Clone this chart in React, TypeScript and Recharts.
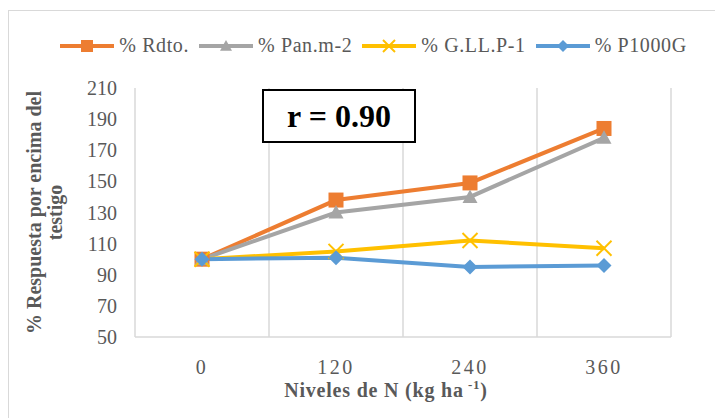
import { LineChart, Line, XAxis, YAxis, ReferenceLine } from "recharts";

// N levels (kg ha-1) and % response over control
const nLevels = [0, 120, 240, 360];
const rdto = [100, 138, 149, 184];
const panM2 = [100, 130, 140, 178];
const gllP1 = [100, 105, 112, 107];
const p1000g = [100, 101, 95, 96];
const yTicks = [50, 70, 90, 110, 130, 150, 170, 190, 210];
const bandEdges = [-60, 60, 180, 300, 420];

const FONT = '"Liberation Serif", "Times New Roman", serif';
const GRID = "#d9d9d9";
const TXT = "#595959";

const series = [
  { key: "rdto", name: "% Rdto.", color: "#ED7D31", shape: "square" },
  { key: "pan", name: "% Pan.m-2", color: "#A5A5A5", shape: "triangle" },
  { key: "gll", name: "% G.LL.P-1", color: "#FFC000", shape: "x" },
  { key: "p1000", name: "% P1000G", color: "#5B9BD5", shape: "diamond" },
];

const data = nLevels.map((n, i) => ({
  n,
  rdto: rdto[i],
  pan: panM2[i],
  gll: gllP1[i],
  p1000: p1000g[i],
}));

function Marker({ shape, color, cx, cy, s }: any) {
  const h = s / 2;
  if (shape === "square")
    return <rect x={cx - h} y={cy - h} width={s} height={s} fill={color} />;
  if (shape === "triangle")
    return (
      <polygon
        points={`${cx},${cy - h} ${cx + h},${cy + h * 0.8} ${cx - h},${cy + h * 0.8}`}
        fill={color}
      />
    );
  if (shape === "diamond")
    return (
      <polygon
        points={`${cx},${cy - h} ${cx + h},${cy} ${cx},${cy + h} ${cx - h},${cy}`}
        fill={color}
      />
    );
  return (
    <g stroke={color} strokeWidth={2}>
      <line x1={cx - h} y1={cy - h} x2={cx + h} y2={cy + h} />
      <line x1={cx - h} y1={cy + h} x2={cx + h} y2={cy - h} />
    </g>
  );
}

function ChartLegend() {
  return (
    <div
      style={{
        position: "absolute",
        top: 23,
        left: -6,
        width: 740,
        display: "flex",
        justifyContent: "center",
        gap: 9,
        fontFamily: FONT,
        fontSize: 20,
        letterSpacing: 0.6,
        color: TXT,
      }}
    >
      {series.map((s) => (
        <div key={s.key} style={{ display: "flex", alignItems: "center" }}>
          <svg width={56} height={22}>
            <line x1={1} y1={11} x2={55} y2={11} stroke={s.color} strokeWidth={4} />
            <Marker shape={s.shape} color={s.color} cx={28} cy={11} s={12} />
          </svg>
          <span style={{ marginLeft: 4 }}>{s.name}</span>
        </div>
      ))}
    </div>
  );
}

function YTitle({ viewBox }: any) {
  const cy = viewBox.y + viewBox.height / 2;
  const st = { fontFamily: FONT, fontSize: 20, fontWeight: "bold" as const, fill: TXT };
  return (
    <g>
      <text style={st} transform={`translate(25,${cy}) rotate(-90)`} textAnchor="middle" dominantBaseline="central">
        % Respuesta por encima del
      </text>
      <text style={st} transform={`translate(46,${cy}) rotate(-90)`} textAnchor="middle" dominantBaseline="central">
        testigo
      </text>
    </g>
  );
}

function XTitle() {
  return (
    <text
      x={377}
      y={386}
      textAnchor="middle"
      style={{ fontFamily: FONT, fontSize: 20, fontWeight: "bold", fill: TXT, letterSpacing: 0.8 }}
    >
      Niveles de N (kg ha
      <tspan style={{ fontSize: 13 }} dy={-8}> -1</tspan>
      <tspan dy={8}>)</tspan>
    </text>
  );
}

export default function App() {
  return (
    <div
      style={{
        position: "absolute",
        left: 8,
        top: 10,
        width: 720,
        height: 420,
        border: `1px solid ${GRID}`,
        background: "#fff",
      }}
    >
      <ChartLegend />
      <LineChart
        width={706}
        height={406}
        data={data}
        margin={{ top: 77, right: 44, bottom: 50, left: 66 }}
      >
        {bandEdges.map((e) => (
          <ReferenceLine key={e} x={e} stroke={GRID} strokeWidth={1.5} />
        ))}
        <XAxis
          dataKey="n"
          type="number"
          domain={[-60, 420]}
          ticks={nLevels}
          height={30}
          axisLine={{ stroke: GRID, strokeWidth: 1.5 }}
          tickLine={false}
          tickSize={0}
          tickMargin={23}
          tick={{ fill: TXT, fontSize: 20, fontFamily: FONT, letterSpacing: 2.5 }}
          label={<XTitle />}
        />
        <YAxis
          domain={[50, 210]}
          ticks={yTicks}
          width={60}
          axisLine={false}
          tickLine={false}
          tickSize={0}
          tickMargin={18}
          tick={{ fill: TXT, fontSize: 20, fontFamily: FONT }}
          label={<YTitle />}
        />
        {series.map((s) => (
          <Line
            key={s.key}
            dataKey={s.key}
            name={s.name}
            stroke={s.color}
            strokeWidth={4}
            isAnimationActive={false}
            dot={(p: any) => (
              <Marker key={`${s.key}-${p.index}`} shape={s.shape} color={s.color} cx={p.cx} cy={p.cy} s={15} />
            )}
            activeDot={false}
          />
        ))}
      </LineChart>
      <div
        style={{
          position: "absolute",
          left: 253,
          top: 78,
          width: 150,
          height: 50,
          border: "2px solid #000",
          background: "#fff",
          display: "flex",
          alignItems: "center",
          justifyContent: "center",
          fontFamily: FONT,
          fontWeight: "bold",
          fontSize: 32,
          color: "#000",
        }}
      >
        r = 0.90
      </div>
    </div>
  );
}
